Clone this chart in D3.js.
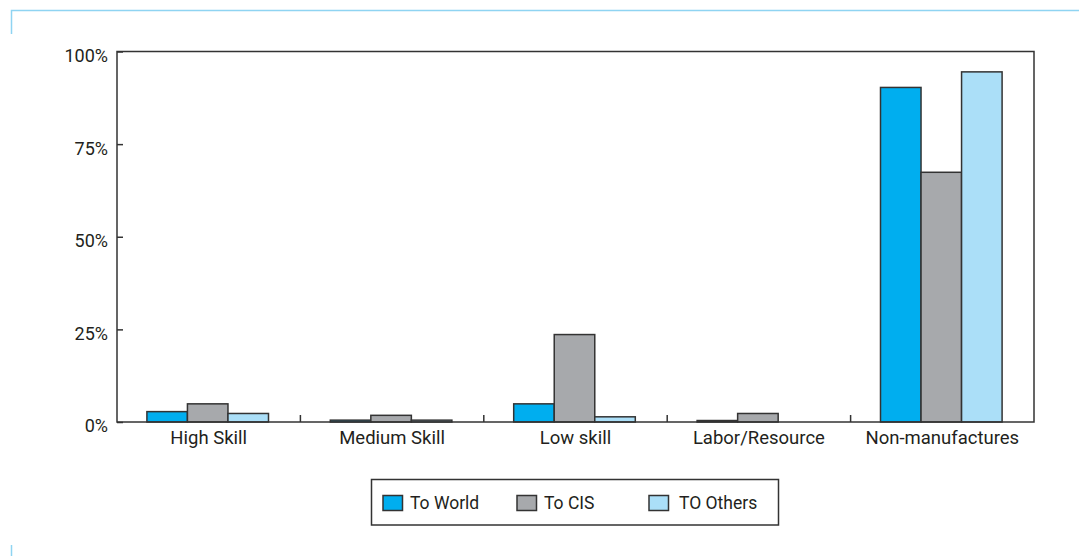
<!DOCTYPE html>
<html>
<head>
<meta charset="utf-8">
<script src="https://cdn.jsdelivr.net/npm/d3@7"></script>
<style>
  html, body { margin: 0; padding: 0; background: #fff; }
  svg { display: block; }
  text { font-family: Roboto, "Liberation Sans", sans-serif; fill: #231f20; }
</style>
</head>
<body>
<svg id="chart" width="1079" height="556"></svg>
<script>
// Export structure by skill category (% of exports)
const categories = ["High Skill", "Medium Skill", "Low skill", "Labor/Resource", "Non-manufactures"];
const seriesNames = ["To World", "To CIS", "TO Others"];
const toWorld  = [2.8, 0.5, 4.9, 0.4, 90.3];
const toCIS    = [4.9, 1.8, 23.6, 2.3, 67.4];
const toOthers = [2.3, 0.5, 1.4, 0.0, 94.5];
const yTicks = [0, 25, 50, 75, 100];

const colors = ["#00aeef", "#a7a9ac", "#abdff8"];
const seriesValues = [toWorld, toCIS, toOthers];

const svg = d3.select("#chart");
const margin = { left: 117, top: 51.5, right: 1034, bottom: 422 };

// Decorative page frame
const frameColor = "#8fd4f2";
svg.append("path")
  .attr("d", "M11.5,34 L11.5,10.5 L1079,10.5")
  .attr("fill", "none").attr("stroke", frameColor).attr("stroke-width", 1.5);
svg.append("line")
  .attr("x1", 11.5).attr("x2", 11.5).attr("y1", 545).attr("y2", 556)
  .attr("stroke", frameColor).attr("stroke-width", 1.5);

const x = d3.scaleBand().domain(categories).range([margin.left, margin.right]);
const groupWidth = x.bandwidth() * 0.663;
const xInner = d3.scaleBand().domain(seriesNames).range([0, groupWidth]);
const y = d3.scaleLinear().domain([0, 100]).range([margin.bottom, margin.top]);

// Bars
const rows = [];
categories.forEach((c, i) => {
  seriesNames.forEach((s, j) => rows.push({ cat: c, series: s, value: seriesValues[j][i], color: colors[j] }));
});
svg.append("g").selectAll("rect").data(rows.filter(d => d.value > 0)).join("rect")
  .attr("x", d => x(d.cat) + (x.bandwidth() - groupWidth) / 2 - 1 + xInner(d.series))
  .attr("y", d => y(d.value))
  .attr("width", xInner.bandwidth())
  .attr("height", d => y(0) - y(d.value))
  .attr("fill", d => d.color)
  .attr("stroke", "#333")
  .attr("stroke-width", 1.5);

// Plot frame
svg.append("rect")
  .attr("x", margin.left).attr("y", margin.top)
  .attr("width", margin.right - margin.left).attr("height", margin.bottom - margin.top)
  .attr("fill", "none").attr("stroke", "#333").attr("stroke-width", 1.5);

// Y axis
const yAxis = d3.axisRight(y).tickValues(yTicks).tickSize(6).tickFormat(d => d + "%");
const gy = svg.append("g").attr("transform", `translate(${margin.left},0)`).call(yAxis);
gy.select(".domain").remove();
gy.selectAll(".tick line").attr("stroke", "#333").attr("stroke-width", 1.5);
gy.selectAll(".tick text")
  .attr("x", -9).attr("dy", "0.55em").attr("text-anchor", "end")
  .style("font-size", "18px").attr("fill", "#231f20");

// X axis: ticks between groups pointing up
const boundaries = categories.slice(1).map(c => x(c));
svg.append("g").selectAll("line").data(boundaries).join("line")
  .attr("x1", d => d).attr("x2", d => d)
  .attr("y1", margin.bottom).attr("y2", margin.bottom - 7)
  .attr("stroke", "#333").attr("stroke-width", 1.5);
svg.append("g").selectAll("text").data(categories).join("text")
  .attr("x", d => x(d) + x.bandwidth() / 2)
  .attr("y", 444)
  .attr("text-anchor", "middle")
  .style("font-size", "18.5px")
  .text(d => d);

// Legend
const legend = svg.append("g");
legend.append("rect")
  .attr("x", 371.5).attr("y", 479.5).attr("width", 407).attr("height", 45.5)
  .attr("fill", "#fff").attr("stroke", "#333").attr("stroke-width", 1.5);
const legendX = [383, 517, 649];
seriesNames.forEach((s, j) => {
  legend.append("rect")
    .attr("x", legendX[j]).attr("y", 495.5).attr("width", 19.5).attr("height", 15)
    .attr("fill", colors[j]).attr("stroke", "#333").attr("stroke-width", 1.5);
  legend.append("text")
    .attr("x", legendX[j] + 27 + (j === 2 ? 3 : 0)).attr("y", 509)
    .style("font-size", "17.5px")
    .text(s);
});
</script>
</body>
</html>
